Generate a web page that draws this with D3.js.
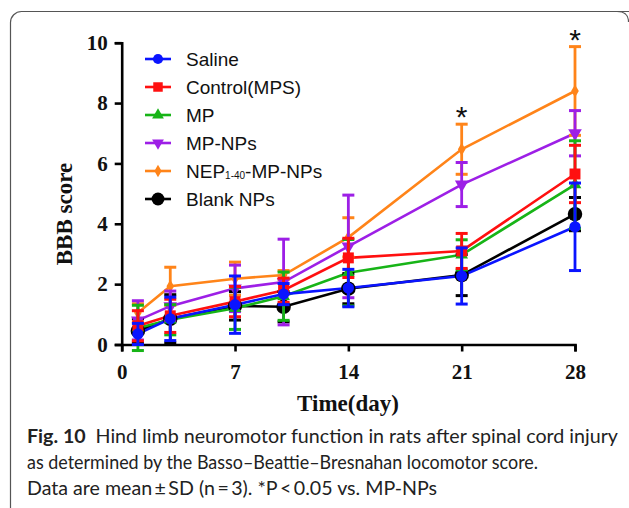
<!DOCTYPE html>
<html>
<head>
<meta charset="utf-8">
<script src="https://cdn.jsdelivr.net/npm/d3@7"></script>
<style>
  body { margin: 0; background: #fff; }
  svg { display: block; }
</style>
</head>
<body>
<script>
// chart values
const days = [1, 3, 7, 10, 14, 21, 28];
const xTicks = [0, 7, 14, 21, 28];
const yTicks = [0, 2, 4, 6, 8, 10];

const saline   = [0.35, 0.85, 1.32, 1.67, 1.87, 2.27, 3.90];
const salineSd = [0.35, 0.72, 0.95, 0.35, 0.62, 0.93, 1.45];
const control   = [0.62, 0.95, 1.42, 1.80, 2.87, 3.10, 5.65];
const controlSd = [0.50, 0.55, 0.50, 0.40, 0.65, 0.58, 0.95];
const mp   = [0.55, 0.82, 1.20, 1.60, 2.38, 2.97, 5.30];
const mpSd = [0.75, 0.50, 0.70, 0.80, 1.10, 0.50, 1.45];
const mpNps   = [0.80, 1.27, 1.86, 2.07, 3.25, 5.30, 7.00];
const mpNpsSd = [0.65, 0.50, 0.77, 1.42, 1.70, 0.73, 0.75];
const nep   = [1.05, 1.93, 2.18, 2.30, 3.55, 6.47, 8.40];
const nepSd = [0.30, 0.63, 0.55, 0.15, 0.65, 0.83, 1.47];
const blank   = [0.45, 0.85, 1.28, 1.25, 1.85, 2.30, 4.32];
const blankSd = [0.40, 0.80, 0.47, 0.50, 0.50, 0.68, 0.55];

const starDays = [21, 28];

const series = [
  {name: "Saline", mean: saline, sd: salineSd, color: "#0a14ff", symbol: d3.symbolCircle, size: 100, lsize: 80},
  {name: "Control(MPS)", mean: control, sd: controlSd, color: "#ff1010", symbol: d3.symbolSquare, size: 120, lsize: 90},
  {name: "MP", mean: mp, sd: mpSd, color: "#17b417", symbol: d3.symbolTriangle, size: 70, lsize: 60},
  {name: "MP-NPs", mean: mpNps, sd: mpNpsSd, color: "#9d1fe6", symbol: d3.symbolTriangle, size: 80, lsize: 60, flip: true},
  {name: "NEP", mean: nep, sd: nepSd, color: "#ff8419", symbol: d3.symbolDiamond, size: 50, lsize: 45},
  {name: "Blank NPs", mean: blank, sd: blankSd, color: "#000000", symbol: d3.symbolCircle, size: 165, lsize: 130}
];

const W = 629, H = 508;
const svg = d3.select("body").append("svg")
  .attr("width", W)
  .attr("height", H);

// rounded frame
svg.append("rect")
  .attr("x", 10.5).attr("y", 11.5)
  .attr("width", 640).attr("height", 520)
  .attr("rx", 11)
  .attr("fill", "none")
  .attr("stroke", "#555")
  .attr("stroke-width", 1.2);
svg.append("path")
  .attr("d", "M 617 11.5 Q 628.5 11.5 628.5 22")
  .attr("fill", "none").attr("stroke", "#555").attr("stroke-width", 1.2);
svg.append("rect").attr("x", 628.5).attr("y", 22).attr("width", 5).attr("height", 500).attr("fill", "#fff");

const xScale = d3.scaleLinear().domain([0, 28]).range([121.7, 575]);
const yScale = d3.scaleLinear().domain([0, 10]).range([344.5, 42.7]);

//X Axis
const xAxis = d3.axisBottom(xScale).tickValues(xTicks).tickSize(7).tickPadding(13).tickFormat(d3.format("d"));
const gx = svg.append("g")
  .attr("transform", "translate(0," + yScale(0) + ")")
  .call(xAxis);
//Y Axis
const yAxis = d3.axisLeft(yScale).tickValues(yTicks).tickSize(7).tickPadding(7).tickFormat(d3.format("d"));
const gy = svg.append("g")
  .attr("transform", "translate(" + xScale(0) + ",0)")
  .call(yAxis);

[gx, gy].forEach(g => {
  g.select(".domain").attr("stroke", "#000").attr("stroke-width", 2.6);
  g.selectAll(".tick line").attr("stroke", "#000").attr("stroke-width", 2.6);
  g.selectAll(".tick text")
    .attr("fill", "#111")
    .style("font-family", "'Liberation Serif', 'Times New Roman', serif")
    .style("font-weight", "bold")
    .style("font-size", "21px");
});

svg.append("text")
  .attr("transform", "translate(72," + 214 + ") rotate(-90)")
  .attr("text-anchor", "middle")
  .style("font-family", "'Liberation Serif', 'Times New Roman', serif")
  .style("font-weight", "bold")
  .style("font-size", "23px")
  .attr("fill", "#111")
  .text("BBB score");

svg.append("text")
  .attr("x", 348).attr("y", 411)
  .attr("text-anchor", "middle")
  .style("font-family", "'Liberation Serif', 'Times New Roman', serif")
  .style("font-weight", "bold")
  .style("font-size", "23px")
  .attr("fill", "#111")
  .text("Time(day)");

const line = d3.line()
  .x((d, i) => xScale(days[i]))
  .y(d => yScale(d));

const plotOrder = series.slice().reverse();

plotOrder.forEach(s => {
  svg.append("path")
    .datum(s.mean)
    .attr("fill", "none")
    .attr("stroke", s.color)
    .attr("stroke-width", 2.6)
    .attr("d", line);
});

plotOrder.forEach(s => {
  const g = svg.append("g");
  const rows = days.map((d, i) => ({day: d, m: s.mean[i], sd: s.sd[i]}));
  g.selectAll("line.bar").data(rows).enter().append("line")
    .attr("x1", d => xScale(d.day)).attr("x2", d => xScale(d.day))
    .attr("y1", d => yScale(d.m - d.sd)).attr("y2", d => yScale(d.m + d.sd))
    .attr("stroke", s.color).attr("stroke-width", 2.8);
  ["-", "+"].forEach(sign => {
    g.selectAll(null).data(rows).enter().append("line")
      .attr("x1", d => xScale(d.day) - 6).attr("x2", d => xScale(d.day) + 6)
      .attr("y1", d => yScale(sign === "+" ? d.m + d.sd : d.m - d.sd))
      .attr("y2", d => yScale(sign === "+" ? d.m + d.sd : d.m - d.sd))
      .attr("stroke", s.color).attr("stroke-width", 3);
  });
  g.selectAll("path").data(rows).enter().append("path")
    .attr("d", d3.symbol().type(s.symbol).size(s.size))
    .attr("transform", d => "translate(" + xScale(d.day) + "," + yScale(d.m) + ")" + (s.flip ? " rotate(180)" : ""))
    .attr("fill", s.color);
});

// significance stars
svg.selectAll("text.star").data(starDays).enter().append("text")
  .attr("class", "star")
  .attr("x", d => xScale(d))
  .attr("y", d => {
    const i = days.indexOf(d);
    return yScale(nep[i] + nepSd[i]) + 3;
  })
  .attr("text-anchor", "middle")
  .style("font-family", "'Liberation Sans', Arial, sans-serif")
  .style("font-size", "30px")
  .attr("fill", "#111")
  .text("*");

// legend
const legend = svg.append("g").attr("transform", "translate(145,59)");
series.forEach((s, i) => {
  const row = legend.append("g").attr("transform", "translate(0," + (i * 28) + ")");
  row.append("line").attr("x1", 0).attr("x2", 26).attr("y1", 0).attr("y2", 0)
    .attr("stroke", s.color).attr("stroke-width", 2.6);
  row.append("path")
    .attr("d", d3.symbol().type(s.symbol).size(s.lsize))
    .attr("transform", "translate(13,0)" + (s.flip ? " rotate(180)" : ""))
    .attr("fill", s.color);
  const t = row.append("text")
    .attr("x", 41).attr("y", 7)
    .style("font-family", "'Liberation Sans', Arial, sans-serif")
    .style("font-size", "19px")
    .attr("fill", "#111");
  if (s.name === "NEP") {
    t.append("tspan").text("NEP");
    t.append("tspan").style("font-size", "10px").attr("dy", 1).text("1-40");
    t.append("tspan").attr("dy", -1).text("-MP-NPs");
  } else {
    t.text(s.name);
  }
});

// caption
const capFont = "Lato, 'Noto Sans', sans-serif";
const c1 = svg.append("text").attr("x", 27).attr("y", 443)
  .attr("textLength", 591).attr("lengthAdjust", "spacingAndGlyphs")
  .style("font-family", capFont).style("font-size", "19.5px").attr("fill", "#222");
c1.append("tspan").style("font-weight", "bold").text("Fig. 10");
c1.append("tspan").text("\u2002Hind limb neuromotor function in rats after spinal cord injury");
svg.append("text").attr("x", 27).attr("y", 469)
  .attr("textLength", 511).attr("lengthAdjust", "spacingAndGlyphs")
  .style("font-family", capFont).style("font-size", "19.5px").attr("fill", "#222")
  .text("as determined by the Basso\u2013Beattie\u2013Bresnahan locomotor score.");
svg.append("text").attr("x", 27).attr("y", 495)
  .attr("textLength", 410).attr("lengthAdjust", "spacingAndGlyphs")
  .style("font-family", capFont).style("font-size", "19.5px").attr("fill", "#222")
  .text("Data are mean\u2009\u00b1\u2009SD (n\u2009=\u20093). *P\u2009<\u20090.05 vs. MP-NPs");
</script>
</body>
</html>
